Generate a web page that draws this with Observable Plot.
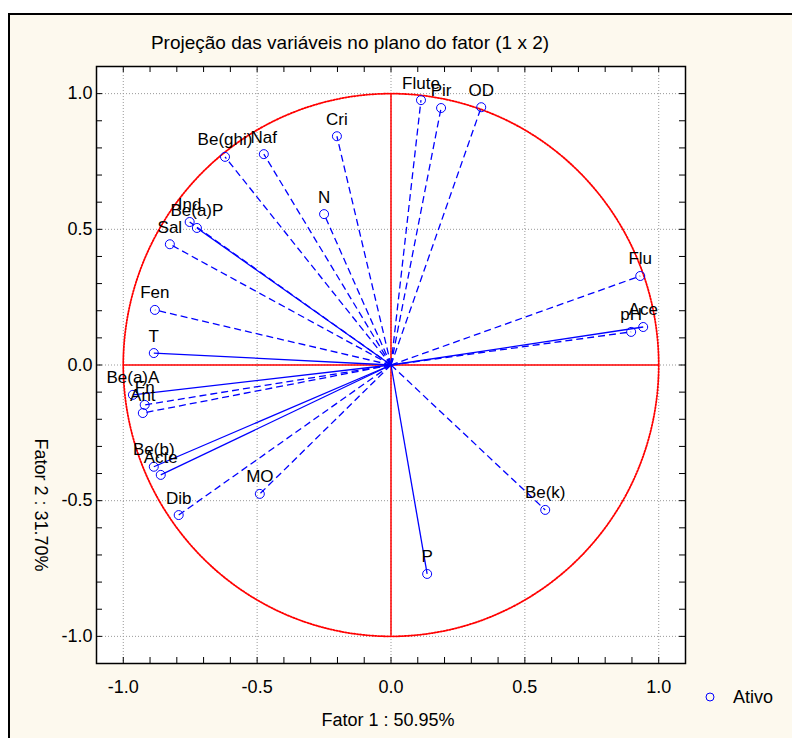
<!DOCTYPE html>
<html><head><meta charset="utf-8">
<script src="https://cdn.jsdelivr.net/npm/d3@7"></script>
<script src="https://cdn.jsdelivr.net/npm/@observablehq/plot@0.6"></script>
<style>
body{margin:0;background:#fff;font-family:"Liberation Sans",Arial,sans-serif;}
#wrap{position:relative;width:792px;height:738px;overflow:hidden;}
#panel{position:absolute;left:8px;top:13px;width:800px;height:740px;background:#fdf9ee;border-left:2px solid #000;border-top:2px solid #000;}
#chart{position:absolute;left:0;top:0;}
.t{position:absolute;font-size:18px;color:#000;white-space:nowrap;transform:translate(-50%,-50%);}
</style></head><body>
<div id="wrap">
<div id="panel"></div>
<div id="chart"></div>
<div class="t" style="left:350px;top:43px;font-size:19px;">Projeção das variáveis no plano do fator (1 x 2)</div>
<div class="t" style="left:388px;top:720px;">Fator 1 : 50.95%</div>
<div class="t" style="left:40px;top:505px;transform:translate(-50%,-50%) rotate(90deg);">Fator 2 : 31.70%</div>
<svg style="position:absolute;left:704px;top:691px;" width="12" height="12"><circle cx="6" cy="6" r="4" fill="none" stroke="#0000ff" stroke-width="1"/></svg>
<div class="t" style="left:753px;top:697px;">Ativo</div>
</div>
<script>
const variaveis = ["Flute","Pir","OD","Cri","Be(ghi)","Naf","N","Ind","Be(a)P","Sal","Fen","T","Be(a)A","Fn","Ant","Be(b)","Acte","Dib","MO","Be(k)","P","Flu","pH","Ace"];
const fator1 = [0.112,0.187,0.337,-0.202,-0.620,-0.475,-0.250,-0.752,-0.725,-0.826,-0.882,-0.886,-0.964,-0.920,-0.927,-0.886,-0.860,-0.793,-0.490,0.576,0.135,0.931,0.897,0.942];
const fator2 = [0.976,0.947,0.950,0.843,0.767,0.777,0.556,0.527,0.505,0.445,0.203,0.044,-0.110,-0.147,-0.177,-0.375,-0.405,-0.553,-0.475,-0.534,-0.770,0.328,0.122,0.140];
const linhaContinua = ["Be(a)P","T","Be(a)A","Be(b)","Acte","Ace","P"];
const ticksPrincipais = [-1,-0.5,0,0.5,1];

const dados = variaveis.map((v,i)=>({nome:v, f1:fator1[i], f2:fator2[i]}));
const continuas = dados.filter(d=>linhaContinua.includes(d.nome));
const tracejadas = dados.filter(d=>!linhaContinua.includes(d.nome));

const dom = [-1.1, 1.1];
const W=792,H=738,mL=96,mR=107,mT=66,mB=75;
const lenX = 6*(dom[1]-dom[0])/(W-mL-mR);
const lenY = 6*(dom[1]-dom[0])/(H-mT-mB);
const ticksMenores = d3.range(-11,12).map(i=>i/10);
const circulo = d3.range(0,361,1).map(a=>({x:Math.cos(a*Math.PI/180), y:Math.sin(a*Math.PI/180)}));
const fmt = d=>d.toFixed(1);

const chart = Plot.plot({
  width:W, height:H, marginLeft:mL, marginRight:mR, marginTop:mT, marginBottom:mB,
  x:{domain:dom}, y:{domain:dom},
  style:{background:"transparent", fontFamily:"'Liberation Sans', Arial, sans-serif", fontSize:"18px", color:"#000"},
  marks:[
    Plot.frame({fill:"white", stroke:null}),
    Plot.gridX(ticksPrincipais,{stroke:"#999", strokeOpacity:1, strokeDasharray:"1,2"}),
    Plot.gridY(ticksPrincipais,{stroke:"#999", strokeOpacity:1, strokeDasharray:"1,2"}),
    Plot.ruleX([0],{y1:-1,y2:1,stroke:"#ff0000",strokeWidth:1.5}),
    Plot.ruleY([0],{x1:-1,x2:1,stroke:"#ff0000",strokeWidth:1.5}),
    Plot.line(circulo,{x:"x",y:"y",stroke:"#ff0000",strokeWidth:1.8,strokeDasharray:"1.5,1.5"}),
    Plot.link(continuas,{x1:0,y1:0,x2:"f1",y2:"f2",stroke:"#0000ff",strokeWidth:1.3}),
    Plot.link(tracejadas,{x1:0,y1:0,x2:"f1",y2:"f2",stroke:"#0000ff",strokeWidth:1.3,strokeDasharray:"7,4"}),
    Plot.dot(dados,{x:"f1",y:"f2",r:4.5,stroke:"#0000ff",fill:"none",strokeWidth:1}),
    Plot.text(dados,{x:"f1",y:"f2",text:"nome",dy:-17,fontSize:17,fill:"#000"}),
    Plot.ruleX(ticksMenores,{y1:dom[0],y2:dom[0]+lenY,stroke:"#000"}),
    Plot.ruleX(ticksMenores,{y1:dom[1],y2:dom[1]-lenY,stroke:"#000"}),
    Plot.ruleY(ticksMenores,{x1:dom[0],x2:dom[0]+lenX,stroke:"#000"}),
    Plot.ruleY(ticksMenores,{x1:dom[1],x2:dom[1]-lenX,stroke:"#000"}),
    Plot.axisX(ticksPrincipais,{anchor:"bottom",tickSize:0,tickPadding:17,tickFormat:fmt,label:null,fontSize:18}),
    Plot.axisY(ticksPrincipais,{anchor:"left",tickSize:0,tickPadding:4,tickFormat:fmt,label:null,fontSize:18}),
    Plot.frame({stroke:"#000",strokeWidth:1.5})
  ]
});
document.getElementById("chart").appendChild(chart);
</script>
</body></html>
